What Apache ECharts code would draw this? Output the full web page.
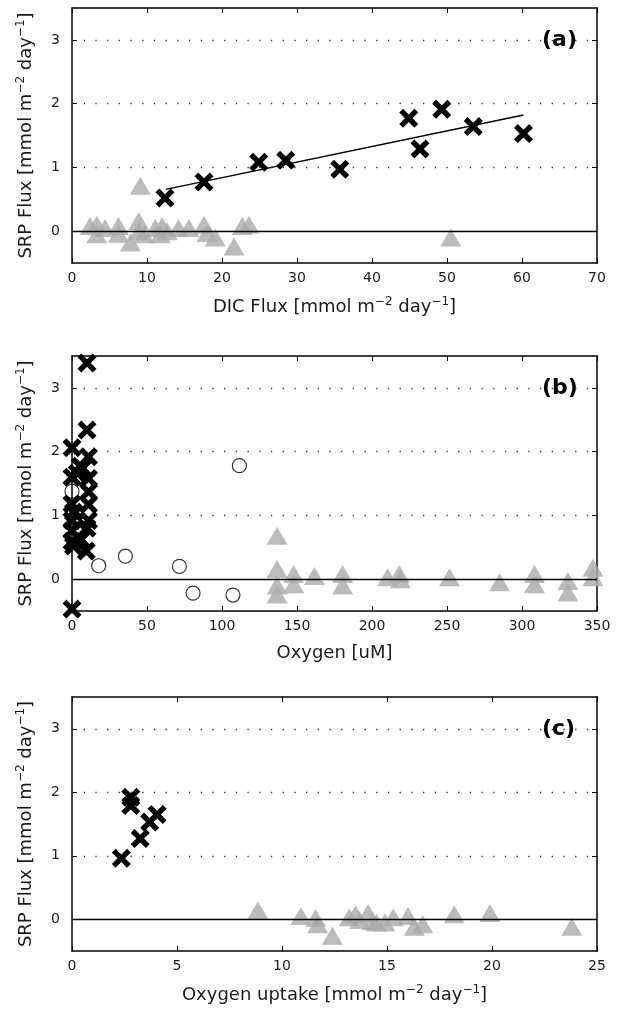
<!DOCTYPE html>
<html><head><meta charset="utf-8">
<script src="https://cdn.jsdelivr.net/npm/echarts@6/dist/echarts.min.js"></script>
<style>html,body{margin:0;padding:0;background:#fff}#c{width:618px;height:1011px}</style>
</head><body><div id="c"></div>
<script>
// ---------- Panel (a): SRP flux vs DIC flux ----------
const aTriX = [2.4, 3.3, 3.3, 4.4, 6.2, 6.2, 7.8, 8.9, 9.1, 8.9, 9.6, 11.1, 11.8, 12.0, 12.7, 14.2, 15.6, 17.6, 18.0, 19.1, 21.6, 22.7, 23.6, 50.5];
const aTriY = [0.08, 0.10, -0.05, 0.05, 0.08, -0.04, -0.18, 0.16, 0.71, 0.0, -0.05, 0.05, -0.05, 0.08, 0.0, 0.05, 0.05, 0.10, -0.03, -0.10, -0.24, 0.08, 0.10, -0.10];
const aCrossX = [12.4, 17.6, 24.9, 28.5, 35.7, 44.9, 46.4, 49.3, 53.5, 60.2];
const aCrossY = [0.52, 0.77, 1.08, 1.11, 0.97, 1.77, 1.29, 1.91, 1.64, 1.53];
const aFitX = [12.5, 60.2];
const aFitY = [0.655, 1.82];

// ---------- Panel (b): SRP flux vs Oxygen ----------
const bCrossX = [10, 10, 0, 11, 11, 11, 11, 11, 10, 9.5, 5.5, 3.5, 7, 0, 0, 1, 0, 0, 0, 1, 6, 0];
const bCrossY = [3.39, 2.34, 2.06, 1.92, 1.58, 1.37, 1.17, 0.92, 0.80, 0.44, 1.77, 1.66, 1.74, 1.60, 1.18, 1.05, 0.92, 0.76, 0.59, 0.52, 0.62, -0.47];
const bCircX = [0, 17.8, 35.6, 71.6, 80.7, 107.3, 111.6];
const bCircY = [1.38, 0.21, 0.36, 0.20, -0.22, -0.25, 1.78];
const bTriX = [136.7, 136.7, 136.7, 136.7, 147.8, 147.8, 161.6, 180.4, 180.4, 210.4, 218.2, 219.0, 251.7, 285.0, 308.3, 308.3, 330.6, 330.6, 347.3, 347.3];
const bTriY = [0.68, 0.16, -0.10, -0.24, 0.08, -0.08, 0.05, 0.08, -0.10, 0.03, 0.08, 0.0, 0.03, -0.05, 0.08, -0.08, -0.03, -0.21, 0.18, 0.03];

// ---------- Panel (c): SRP flux vs Oxygen uptake ----------
const cCrossX = [2.35, 2.8, 2.8, 3.25, 3.7, 4.05];
const cCrossY = [0.96, 1.92, 1.79, 1.27, 1.53, 1.65];
const cTriX = [8.85, 10.9, 11.6, 11.7, 12.4, 13.2, 13.5, 13.7, 14.1, 14.3, 14.5, 14.9, 15.3, 16.0, 16.3, 16.7, 18.2, 19.9, 23.8];
const cTriY = [0.14, 0.05, 0.02, -0.08, -0.26, 0.03, 0.08, -0.01, 0.10, -0.03, -0.05, -0.05, 0.03, 0.05, -0.12, -0.08, 0.08, 0.10, -0.12];

// ---------- Axis settings ----------
const yTickValues = [0, 1, 2, 3];
const gridLineValues = [1, 2, 3];
const panelLabels = ['(a)', '(b)', '(c)'];
const xMax = [70, 350, 25];
const xStep = [10, 50, 5];
const yTitle = '{n|SRP Flux [mmol m}{s|\u22122}{n| day}{s|\u22121}{n|]}';
const xTitles = [
  '{n|DIC Flux [mmol m}{s|\u22122}{n| day}{s|\u22121}{n|]}',
  '{n|Oxygen [uM]}',
  '{n|Oxygen uptake [mmol m}{s|\u22122}{n| day}{s|\u22121}{n|]}'
];

const FONT = 'DejaVu Sans';
const TXT = '#1a1a1a';
const zip = (xs, ys) => xs.map((x, i) => [x, ys[i]]);
const CROSS = 'path://M0,20L20,0L50,30L80,0L100,20L70,50L100,80L80,100L50,70L20,100L0,80L30,50Z';
const GRAY = '#aaaaaa';

const gridTops = [8, 356, 697];
const gridH = [255, 255, 254];

const rich = {
  n: { fontFamily: FONT, fontSize: 18, color: TXT },
  s: { fontFamily: FONT, fontSize: 12, color: TXT, padding: [0, 0, 11, 0] }
};
const frameLine = { show: true, onZero: false, lineStyle: { color: '#000', width: 1.5 } };

const grids = [], xAxes = [], yAxes = [], series = [], graphics = [];
for (let p = 0; p < 3; p++) {
  grids.push({ left: 72, right: 21, top: gridTops[p], height: gridH[p] });
  xAxes.push({
    gridIndex: p, type: 'value', position: 'bottom', min: 0, max: xMax[p], interval: xStep[p],
    axisLine: frameLine,
    axisTick: { show: true, inside: true, length: 5, lineStyle: { color: '#000', width: 1 } },
    axisLabel: { margin: 8, fontFamily: FONT, fontSize: 14, color: TXT },
    splitLine: { show: false },
    name: xTitles[p], nameLocation: 'middle', nameGap: 33,
    nameTextStyle: { rich: rich }
  });
  xAxes.push({
    gridIndex: p, type: 'value', position: 'top', min: 0, max: xMax[p], interval: xStep[p],
    axisLine: frameLine,
    axisTick: { show: true, inside: true, length: 5, lineStyle: { color: '#000', width: 1 } },
    axisLabel: { show: false }, splitLine: { show: false }
  });
  yAxes.push({
    gridIndex: p, type: 'value', position: 'left', min: -0.5, max: 3.5,
    axisLine: frameLine,
    axisTick: { show: true, inside: true, length: 5, customValues: yTickValues, lineStyle: { color: '#000', width: 1 } },
    axisLabel: { customValues: yTickValues, margin: 12, fontFamily: FONT, fontSize: 14, color: TXT },
    splitLine: { show: false },
    name: yTitle, nameLocation: 'middle', nameGap: 34,
    nameTextStyle: { rich: rich }
  });
  yAxes.push({
    gridIndex: p, type: 'value', position: 'right', min: -0.5, max: 3.5,
    axisLine: frameLine,
    axisTick: { show: true, inside: true, length: 5, customValues: yTickValues, lineStyle: { color: '#000', width: 1 } },
    axisLabel: { show: false }, splitLine: { show: false }
  });
  graphics.push({
    type: 'text', left: 542, top: gridTops[p] + 21,
    style: { text: panelLabels[p], font: 'bold 22px "DejaVu Sans"', fill: '#000' }
  });
}

function tri(p, data) {
  return { type: 'scatter', xAxisIndex: 2 * p, yAxisIndex: 2 * p, data: data,
    symbol: 'triangle', symbolSize: [21, 18], itemStyle: { color: GRAY }, z: 2 };
}
function cross(p, data) {
  return { type: 'scatter', xAxisIndex: 2 * p, yAxisIndex: 2 * p, data: data,
    symbol: CROSS, symbolSize: 19, itemStyle: { color: '#000', opacity: 1 }, z: 4 };
}
function guides(p) {
  const d = gridLineValues.map(v => ({ yAxis: v, lineStyle: { type: [1.3, 10.4], color: '#333', width: 1.3 } }));
  d.push({ yAxis: 0, lineStyle: { type: 'solid', color: '#000', width: 1.3 } });
  return { type: 'scatter', xAxisIndex: 2 * p, yAxisIndex: 2 * p, data: [], z: 3,
    markLine: { silent: true, symbol: ['none', 'none'], label: { show: false }, data: d } };
}

series.push(tri(0, zip(aTriX, aTriY)));
series.push(guides(0));
series.push({ type: 'line', xAxisIndex: 0, yAxisIndex: 0, data: zip(aFitX, aFitY), showSymbol: false,
  symbol: 'none', lineStyle: { color: '#000', width: 1.5 }, z: 3 });
series.push(cross(0, zip(aCrossX, aCrossY)));

series.push(tri(1, zip(bTriX, bTriY)));
series.push(guides(1));
series.push(cross(1, zip(bCrossX, bCrossY)));
series.push({ type: 'scatter', xAxisIndex: 2, yAxisIndex: 2, data: zip(bCircX, bCircY),
  symbol: 'circle', symbolSize: 14, itemStyle: { color: 'rgba(0,0,0,0)', borderColor: '#000', borderWidth: 1.2 }, z: 5 });

series.push(tri(2, zip(cTriX, cTriY)));
series.push(guides(2));
series.push(cross(2, zip(cCrossX, cCrossY)));

const chart = echarts.init(document.getElementById('c'), null, { renderer: 'canvas' });
chart.setOption({
  animation: false,
  backgroundColor: '#fff',
  grid: grids, xAxis: xAxes, yAxis: yAxes, series: series, graphic: graphics
});
</script></body></html>
